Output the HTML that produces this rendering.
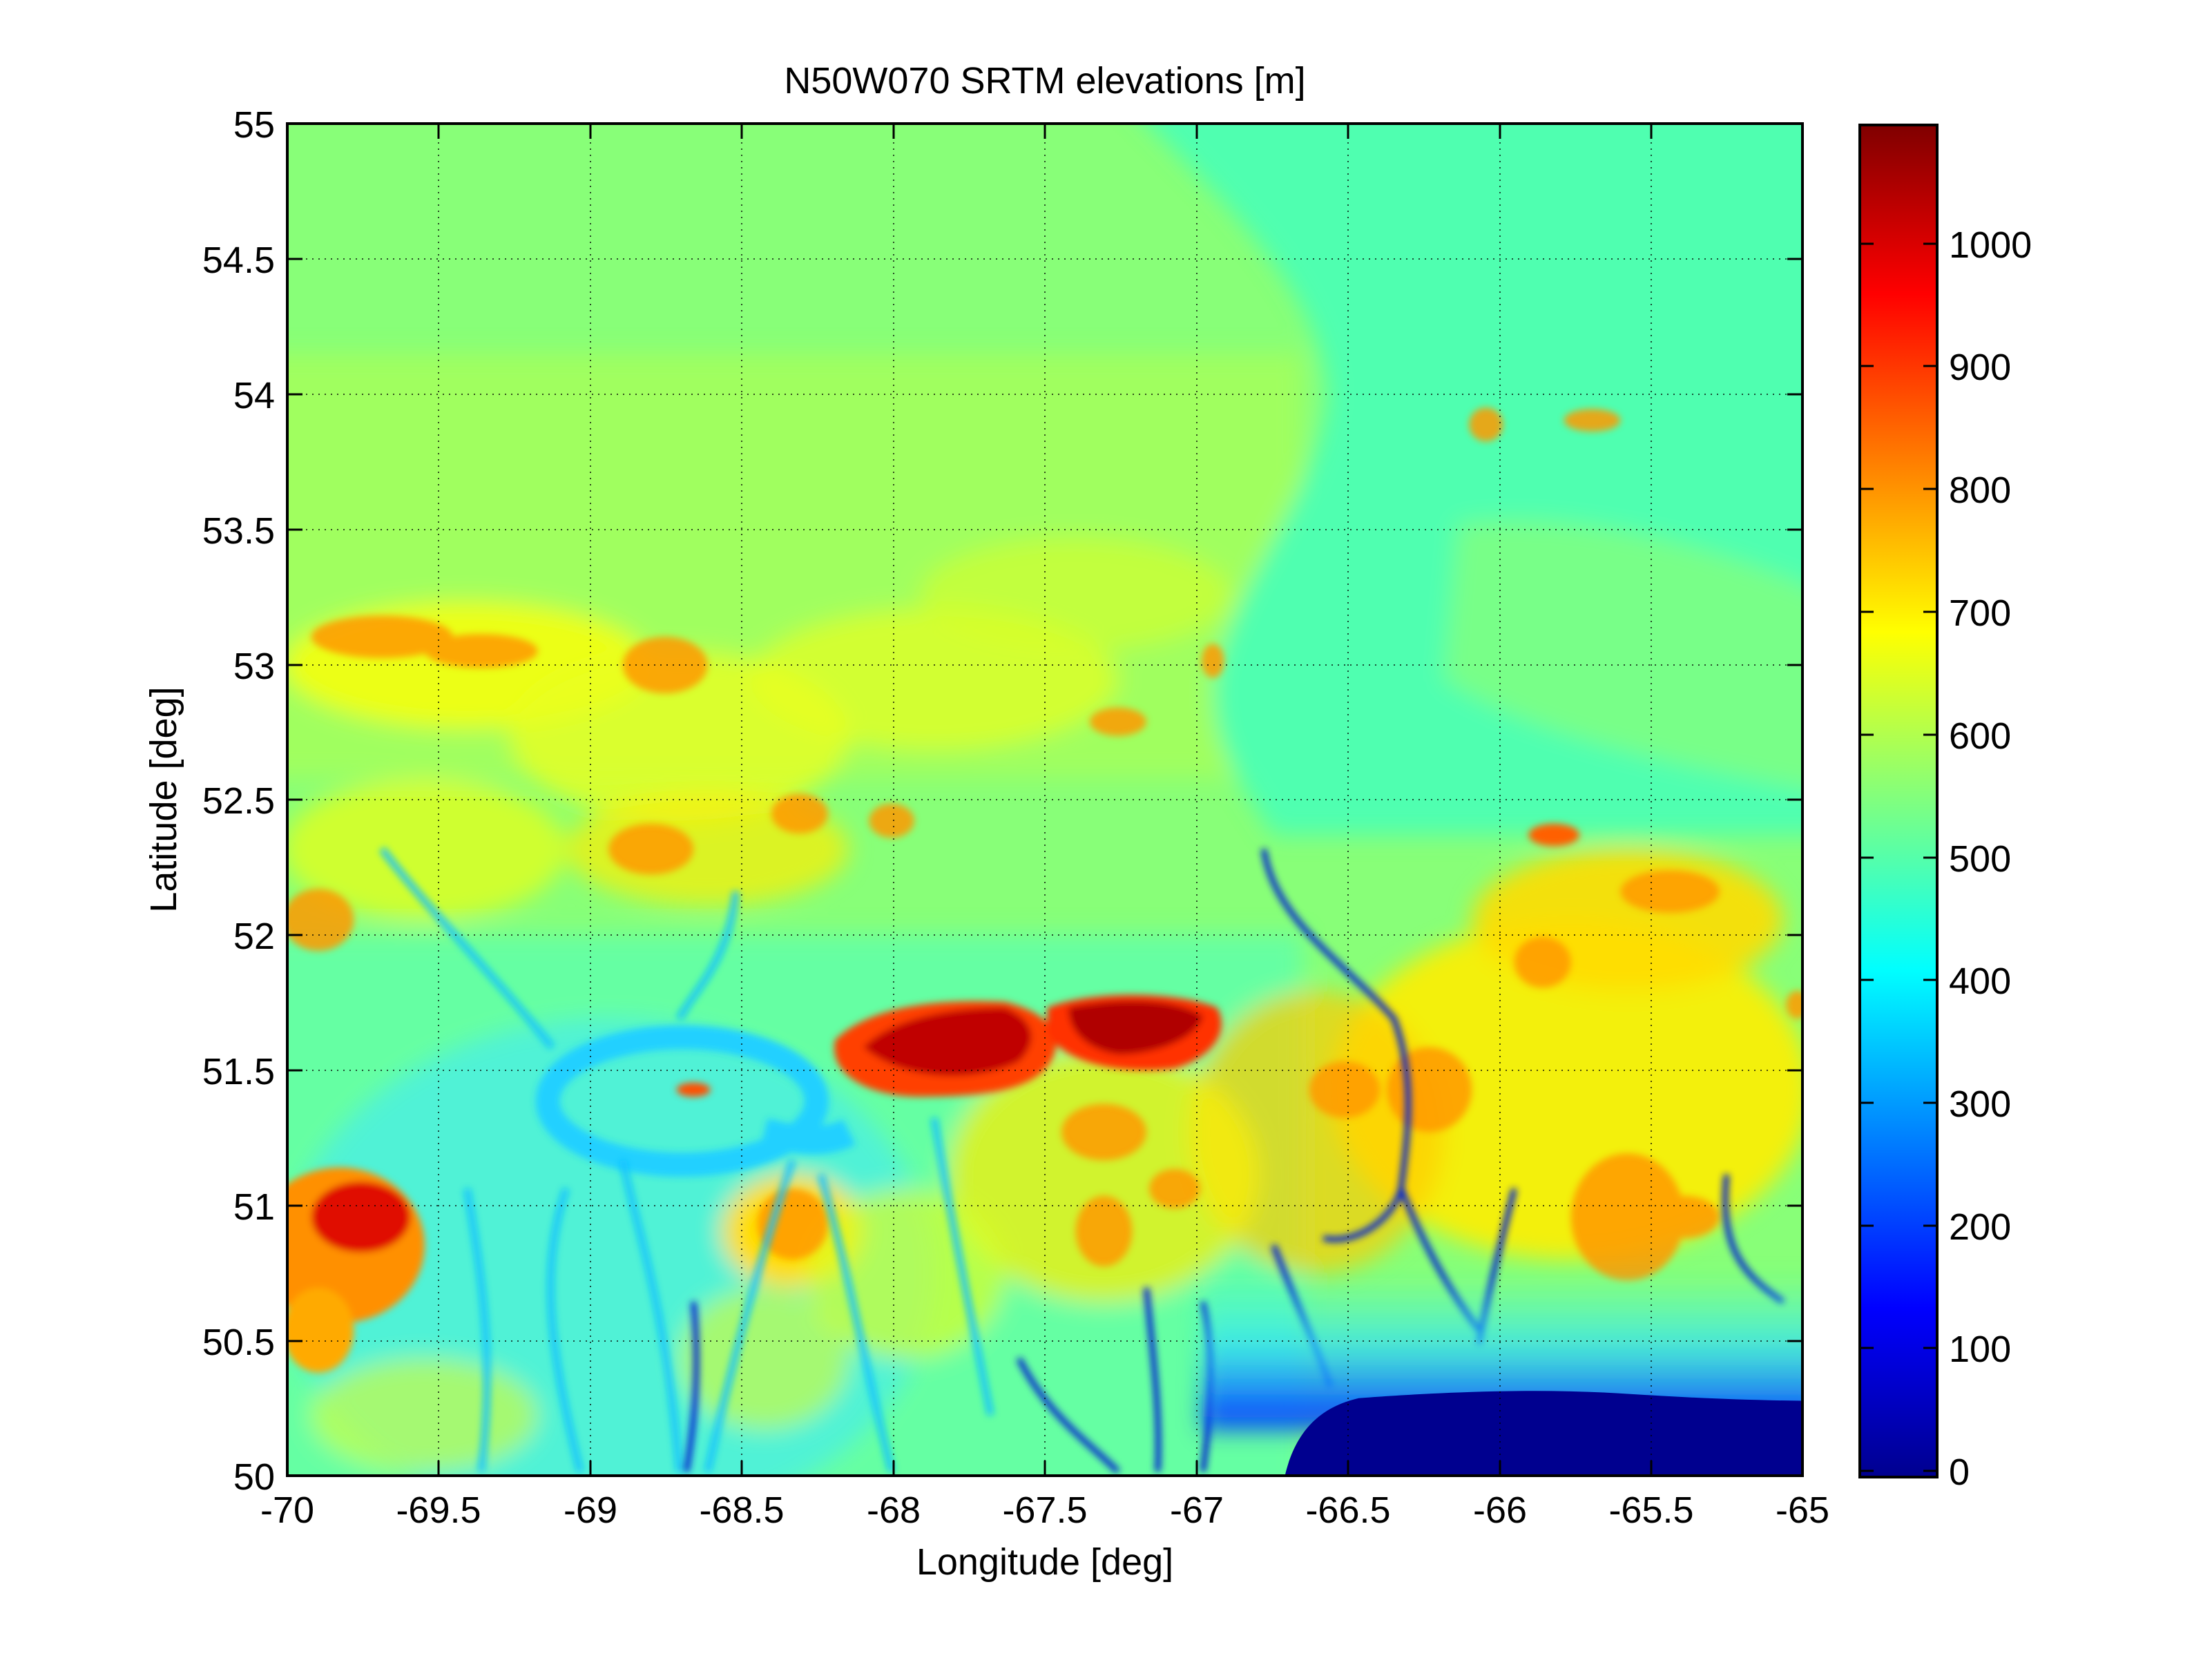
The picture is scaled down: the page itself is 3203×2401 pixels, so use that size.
<!DOCTYPE html>
<html><head><meta charset="utf-8"><style>
html,body{margin:0;padding:0;background:#fff}
svg{display:block}
text{font-family:"Liberation Sans",Arial,sans-serif;fill:#000}
</style></head><body>
<svg width="3203" height="2401" viewBox="0 0 3203 2401" xmlns="http://www.w3.org/2000/svg">
<defs>
<linearGradient id="jet" x1="0" y1="1" x2="0" y2="0">
<stop offset="0" stop-color="#00008f"/><stop offset="0.125" stop-color="#0000ff"/>
<stop offset="0.375" stop-color="#00ffff"/><stop offset="0.625" stop-color="#ffff00"/>
<stop offset="0.875" stop-color="#ff0000"/><stop offset="1" stop-color="#800000"/>
</linearGradient>
<linearGradient id="sth" x1="0" y1="0" x2="0" y2="1">
<stop offset="0" stop-color="#30f0ff" stop-opacity="0"/>
<stop offset="0.45" stop-color="#30e0ff" stop-opacity="0.7"/>
<stop offset="1" stop-color="#0030ff"/>
</linearGradient>
<filter id="b1" filterUnits="userSpaceOnUse" x="0" y="0" width="1600" height="1200"><feGaussianBlur stdDeviation="8"/></filter>
<filter id="b2" filterUnits="userSpaceOnUse" x="0" y="0" width="1600" height="1200"><feGaussianBlur stdDeviation="2.5"/></filter>
<clipPath id="pc"><rect x="203" y="87.4" width="1070.6" height="955.4"/></clipPath>
</defs>
<g transform="scale(2.0493)">
<g clip-path="url(#pc)">
<rect x="180" y="70" width="1120" height="1000" fill="#88ff78"/>
<g filter="url(#b1)">
<rect x="180" y="250" width="740" height="300" fill="#b0ff50" opacity="0.6"/>
<path d="M785,60 C850,130 935,200 938,280 C930,350 880,400 860,470 C850,520 880,560 900,590 L1300,590 L1300,60 Z" fill="#50ffb0"/>
<path d="M1030,370 C1100,360 1200,380 1290,420 L1290,560 C1180,540 1080,520 1020,480 Z" fill="#78ff88"/>
<ellipse cx="330" cy="470" rx="130" ry="45" fill="#ffff00" opacity="0.8"/>
<ellipse cx="480" cy="520" rx="120" ry="60" fill="#e8ff20" opacity="0.8"/>
<ellipse cx="660" cy="480" rx="130" ry="50" fill="#e8ff20" opacity="0.7"/>
<ellipse cx="760" cy="420" rx="110" ry="40" fill="#d8ff28" opacity="0.6"/>
<ellipse cx="300" cy="600" rx="100" ry="50" fill="#ffff00" opacity="0.6"/>
<ellipse cx="500" cy="600" rx="100" ry="40" fill="#ffee00" opacity="0.7"/>
<rect x="180" y="660" width="740" height="420" fill="#50ffc0" opacity="0.6"/>
<ellipse cx="430" cy="900" rx="230" ry="180" fill="#40e8ff" opacity="0.55"/>
<ellipse cx="300" cy="1000" rx="80" ry="40" fill="#ddff30" opacity="0.6"/>
<ellipse cx="540" cy="960" rx="60" ry="50" fill="#ddff30" opacity="0.6"/>
<ellipse cx="1110" cy="770" rx="170" ry="120" fill="#ffee00" opacity="0.9"/>
<ellipse cx="930" cy="800" rx="90" ry="100" fill="#ffcc00" opacity="0.7"/>
<ellipse cx="1150" cy="650" rx="110" ry="50" fill="#ffdd00" opacity="0.9"/>
<ellipse cx="780" cy="830" rx="110" ry="90" fill="#ffee00" opacity="0.7"/>
<ellipse cx="560" cy="870" rx="50" ry="40" fill="#ffdd00"/>
<ellipse cx="640" cy="900" rx="70" ry="60" fill="#d8ff28" opacity="0.7"/>
</g>
<g filter="url(#b2)" fill="#ff9900" opacity="0.85">
<ellipse cx="270" cy="450" rx="50" ry="15"/><ellipse cx="340" cy="460" rx="40" ry="12"/>
<ellipse cx="470" cy="470" rx="30" ry="20"/><ellipse cx="460" cy="600" rx="30" ry="18"/>
<ellipse cx="565" cy="575" rx="20" ry="14"/><ellipse cx="630" cy="580" rx="16" ry="12"/>
<ellipse cx="790" cy="510" rx="20" ry="10"/><ellipse cx="225" cy="650" rx="25" ry="22"/>
<ellipse cx="1180" cy="630" rx="35" ry="15"/><ellipse cx="1090" cy="680" rx="20" ry="18"/>
<ellipse cx="1150" cy="860" rx="40" ry="45"/><ellipse cx="1190" cy="860" rx="25" ry="15"/>
<ellipse cx="560" cy="865" rx="25" ry="25"/><ellipse cx="780" cy="800" rx="30" ry="20"/>
<ellipse cx="1050" cy="300" rx="12" ry="12"/><ellipse cx="1125" cy="297" rx="20" ry="8"/>
<ellipse cx="857" cy="467" rx="8" ry="12"/><ellipse cx="1010" cy="770" rx="30" ry="30"/>
<ellipse cx="1270" cy="710" rx="8" ry="10"/><ellipse cx="950" cy="770" rx="25" ry="20"/>
<ellipse cx="780" cy="870" rx="20" ry="25"/><ellipse cx="830" cy="840" rx="18" ry="14"/>
</g>
<g filter="url(#b2)">
<ellipse cx="240" cy="880" rx="60" ry="55" fill="#ff9000"/>
<ellipse cx="255" cy="860" rx="35" ry="25" fill="#e01000"/>
<ellipse cx="225" cy="940" rx="25" ry="30" fill="#ffaa00"/>
<path d="M590,735 C610,715 650,705 710,708 C740,715 750,730 745,745 C735,770 700,775 650,775 C615,775 585,760 590,735 Z" fill="#ff4000"/>
<path d="M610,740 C630,720 670,712 710,712 C730,720 735,735 720,750 C690,765 640,765 610,740 Z" fill="#c00000"/>
<path d="M740,712 C770,700 830,700 860,712 C870,730 855,748 830,755 C790,760 750,750 740,730 Z" fill="#ff3000"/>
<path d="M755,712 C790,705 830,705 850,718 C845,735 815,745 790,745 C770,742 755,730 755,712 Z" fill="#b00000"/>
<ellipse cx="490" cy="770" rx="12" ry="5" fill="#ff5000"/>
<ellipse cx="1098" cy="590" rx="18" ry="8" fill="#ff6000"/>
</g>
<g filter="url(#b2)" fill="none" stroke="#20d0ff">
<ellipse cx="482" cy="778" rx="95" ry="45" stroke-width="17"/>
<path d="M540,800 C560,805 580,810 600,800" stroke-width="20"/>
</g>
<g fill="none" stroke="#10c0ff" stroke-width="5" filter="url(#b2)" opacity="0.85">
<path d="M270,600 C300,640 350,690 390,740"/>
<path d="M520,630 C515,680 490,700 480,720"/>
<path d="M440,820 C450,870 470,920 480,1040"/>
<path d="M400,840 C380,900 390,960 410,1040"/>
<path d="M660,790 C670,850 680,900 700,1000"/>
<path d="M580,830 C600,900 610,960 630,1040"/>
<path d="M330,840 C340,900 350,960 340,1040"/>
<path d="M560,820 C540,880 520,950 500,1040"/>
</g>
<g fill="none" stroke="#0020d0" stroke-width="4" filter="url(#b2)">
<path d="M893,600 C900,650 950,680 985,720 C1000,760 995,800 990,840 C985,860 960,880 935,875"/>
<path d="M990,840 C1010,890 1030,920 1045,940"/>
<path d="M1070,840 C1060,880 1050,920 1045,950"/>
<path d="M1220,830 C1215,880 1230,900 1260,920"/>
<path d="M900,880 C915,920 930,950 940,980"/>
<path d="M850,920 C860,960 855,1000 850,1040"/>
<path d="M810,910 C815,960 820,1000 818,1040"/>
<path d="M490,920 C495,970 490,1010 485,1040"/>
<path d="M720,960 C740,1000 770,1020 790,1040"/>
</g>
<rect x="850" y="900" width="440" height="110" fill="url(#sth)" filter="url(#b1)"/>
<path d="M905,1060 C910,1015 930,995 960,988 C1000,985 1080,980 1150,985 C1200,988 1240,990 1300,990 L1300,1060 Z" fill="#00008f"/>
</g>
</g>
<g stroke="#000" stroke-width="2" stroke-dasharray="2,7" opacity="0.7">
<path d="M855,179V2137M1294,179V2137M1733,179V2137M2172,179V2137M635,179V2137M1074,179V2137M1513,179V2137M1952,179V2137M2391,179V2137"/>
<path d="M416,375H2610M416,571H2610M416,767H2610M416,963H2610M416,1158H2610M416,1354H2610M416,1550H2610M416,1746H2610M416,1942H2610"/>
</g>
<g stroke="#000" stroke-width="3">
<path d="M416,2137v-22M635,2137v-22M855,2137v-22M1074,2137v-22M1294,2137v-22M1513,2137v-22M1733,2137v-22M1952,2137v-22M2172,2137v-22M2391,2137v-22M2610,2137v-22"/>
<path d="M635,179v22M855,179v22M1074,179v22M1294,179v22M1513,179v22M1733,179v22M1952,179v22M2172,179v22M2391,179v22"/>
<path d="M416,375h22M416,571h22M416,767h22M416,963h22M416,1158h22M416,1354h22M416,1550h22M416,1746h22M416,1942h22"/>
<path d="M2610,375h-22M2610,571h-22M2610,767h-22M2610,963h-22M2610,1158h-22M2610,1354h-22M2610,1550h-22M2610,1746h-22M2610,1942h-22"/>
</g>
<rect x="416" y="179" width="2194" height="1958" fill="none" stroke="#000" stroke-width="4"/>
<rect x="2693" y="181" width="112" height="1958" fill="url(#jet)" stroke="#000" stroke-width="4"/>
<g stroke="#000" stroke-width="3">
<path d="M2693,2130h20M2805,2130h-20M2693,1952h20M2805,1952h-20M2693,1775h20M2805,1775h-20M2693,1597h20M2805,1597h-20M2693,1419h20M2805,1419h-20M2693,1242h20M2805,1242h-20M2693,1064h20M2805,1064h-20M2693,886h20M2805,886h-20M2693,708h20M2805,708h-20M2693,530h20M2805,530h-20M2693,353h20M2805,353h-20"/>
</g>
<g font-size="54" text-anchor="start">
<text x="2822" y="2150">0</text><text x="2822" y="1972">100</text><text x="2822" y="1795">200</text>
<text x="2822" y="1617">300</text><text x="2822" y="1439">400</text><text x="2822" y="1262">500</text>
<text x="2822" y="1084">600</text><text x="2822" y="906">700</text><text x="2822" y="728">800</text>
<text x="2822" y="550">900</text><text x="2822" y="373">1000</text>
</g>
<g font-size="54" text-anchor="end">
<text x="398" y="199">55</text><text x="398" y="395">54.5</text><text x="398" y="591">54</text>
<text x="398" y="787">53.5</text><text x="398" y="983">53</text><text x="398" y="1178">52.5</text>
<text x="398" y="1374">52</text><text x="398" y="1570">51.5</text><text x="398" y="1766">51</text>
<text x="398" y="1962">50.5</text><text x="398" y="2157">50</text>
</g>
<g font-size="54" text-anchor="middle">
<text x="416" y="2205">-70</text><text x="635" y="2205">-69.5</text><text x="855" y="2205">-69</text>
<text x="1074" y="2205">-68.5</text><text x="1294" y="2205">-68</text><text x="1513" y="2205">-67.5</text>
<text x="1733" y="2205">-67</text><text x="1952" y="2205">-66.5</text><text x="2172" y="2205">-66</text>
<text x="2391" y="2205">-65.5</text><text x="2610" y="2205">-65</text>
<text x="1513" y="2280">Longitude [deg]</text>
<text x="1513" y="135">N50W070 SRTM elevations [m]</text>
<text transform="translate(255,1158) rotate(-90)">Latitude [deg]</text>
</g>
</svg>
</body></html>
